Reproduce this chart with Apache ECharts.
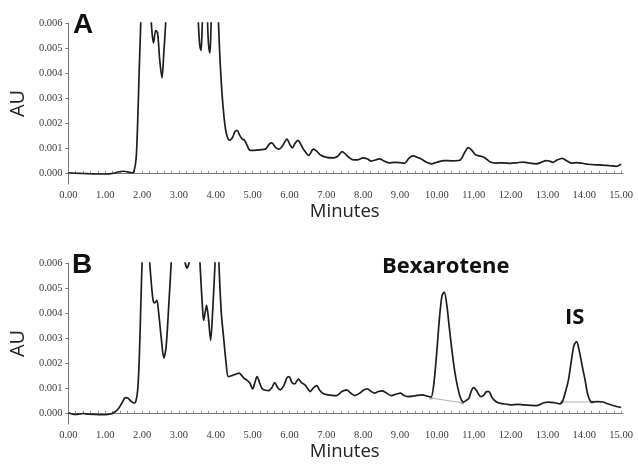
<!DOCTYPE html>
<html>
<head>
<meta charset="utf-8">
<script src="https://cdn.jsdelivr.net/npm/echarts@6/dist/echarts.min.js"></script>
<style>
html,body{margin:0;padding:0;background:#fff;}
#c{width:638px;height:470px;}
</style>
</head>
<body>
<div id="c"></div>
<script>
// ---- Data (minutes, AU) ----
const timesA = [0.00,0.20,0.40,0.60,0.80,1.00,1.20,1.35,1.50,1.62,1.72,1.78,1.84,1.88,1.92,1.96,2.00,2.10,2.20,2.26,2.31,2.37,2.42,2.48,2.54,2.59,2.64,2.70,3.00,3.40,3.52,3.56,3.60,3.63,3.68,3.76,3.80,3.84,3.87,3.92,4.00,4.06,4.10,4.15,4.20,4.25,4.30,4.37,4.45,4.52,4.58,4.65,4.72,4.78,4.85,4.93,5.05,5.20,5.35,5.45,5.52,5.62,5.72,5.82,5.93,6.02,6.08,6.15,6.23,6.32,6.40,6.52,6.65,6.75,6.85,7.00,7.20,7.30,7.43,7.55,7.70,7.85,8.00,8.12,8.22,8.35,8.45,8.55,8.70,8.85,9.00,9.12,9.25,9.35,9.50,9.60,9.72,9.85,10.00,10.20,10.40,10.62,10.75,10.85,10.95,11.05,11.20,11.30,11.45,11.60,11.80,12.00,12.15,12.35,12.50,12.70,12.85,12.95,13.05,13.15,13.25,13.40,13.52,13.65,13.80,13.95,14.10,14.30,14.50,14.70,14.87,15.00];
const auA = [0.00000,-0.00002,-0.00003,-0.00004,-0.00005,-0.00005,-0.00003,0.00003,0.00006,0.00003,0.00000,0.00005,0.0006,0.0020,0.0040,0.0058,0.0075,0.0090,0.0075,0.0058,0.0052,0.0057,0.0056,0.0045,0.0038,0.0048,0.0060,0.0080,0.0110,0.0090,0.0062,0.0052,0.0049,0.0058,0.0075,0.0065,0.0052,0.0048,0.0058,0.0080,0.0080,0.0065,0.0050,0.0036,0.0026,0.0019,0.0015,0.0013,0.0014,0.00165,0.0017,0.0015,0.00135,0.0013,0.0011,0.0009,0.0009,0.00092,0.00095,0.00115,0.0012,0.00102,0.00095,0.0011,0.00135,0.0011,0.0010,0.00118,0.0013,0.0011,0.0009,0.0007,0.00095,0.00085,0.0007,0.00062,0.0006,0.00065,0.00085,0.0007,0.00053,0.00052,0.0006,0.00055,0.00047,0.00052,0.00056,0.00048,0.0004,0.00042,0.00041,0.00038,0.0006,0.00068,0.0006,0.00053,0.00042,0.00036,0.00042,0.00049,0.00048,0.0005,0.0008,0.00101,0.0009,0.00072,0.00066,0.0006,0.00043,0.00039,0.0004,0.00038,0.0004,0.00043,0.00039,0.00036,0.00043,0.00049,0.00047,0.00042,0.0005,0.00058,0.00048,0.00039,0.00041,0.00038,0.00034,0.00032,0.00031,0.00028,0.00026,0.00034];

const timesB = [0.00,0.10,0.20,0.30,0.40,0.55,0.75,1.00,1.15,1.25,1.35,1.45,1.55,1.62,1.70,1.78,1.83,1.88,1.92,1.96,2.00,2.06,2.14,2.20,2.25,2.30,2.34,2.40,2.45,2.52,2.59,2.65,2.72,2.79,2.86,3.05,3.15,3.22,3.30,3.45,3.55,3.60,3.64,3.67,3.71,3.75,3.80,3.86,3.92,3.98,4.02,4.05,4.09,4.15,4.22,4.28,4.34,4.45,4.55,4.63,4.70,4.76,4.85,4.92,5.00,5.06,5.12,5.19,5.26,5.35,5.44,5.52,5.60,5.68,5.75,5.85,5.93,5.99,6.07,6.14,6.24,6.33,6.42,6.50,6.56,6.65,6.74,6.82,6.92,7.05,7.15,7.28,7.42,7.55,7.65,7.77,7.92,8.00,8.11,8.22,8.31,8.41,8.51,8.62,8.76,8.90,9.01,9.10,9.21,9.40,9.61,9.75,9.84,9.92,10.00,10.07,10.14,10.20,10.27,10.33,10.40,10.48,10.56,10.64,10.72,10.80,10.87,10.94,11.00,11.07,11.15,11.19,11.27,11.35,11.41,11.50,11.60,11.68,11.85,12.00,12.20,12.35,12.55,12.71,12.90,13.03,13.20,13.34,13.42,13.50,13.57,13.65,13.72,13.79,13.86,13.94,14.02,14.10,14.20,14.35,14.51,14.65,14.78,14.90,15.00];
const auB = [0.00000,-0.00005,-0.00007,-0.00005,-0.00003,-0.00006,-0.00007,-0.00008,-0.00005,0.00002,0.00015,0.00038,0.00061,0.00058,0.00046,0.00039,0.00045,0.0009,0.0020,0.0040,0.0060,0.0080,0.0080,0.0062,0.0052,0.0045,0.0044,0.0045,0.0040,0.0030,0.0022,0.0026,0.0042,0.0060,0.0080,0.0080,0.0062,0.0058,0.0062,0.0080,0.0065,0.0052,0.0042,0.0037,0.0040,0.0043,0.0038,0.0029,0.0042,0.0060,0.0075,0.0075,0.0058,0.0040,0.0029,0.0020,0.00145,0.0015,0.00155,0.00159,0.0015,0.00139,0.0013,0.0012,0.00096,0.0012,0.00145,0.0012,0.00096,0.0009,0.00089,0.001,0.00121,0.001,0.00092,0.0011,0.0014,0.00145,0.0012,0.00116,0.00135,0.0012,0.00112,0.00095,0.00085,0.001,0.00109,0.0009,0.00076,0.00072,0.0007,0.00069,0.00085,0.00092,0.0008,0.00069,0.0008,0.0009,0.00096,0.00085,0.00079,0.00085,0.00088,0.0008,0.00069,0.00075,0.00079,0.0007,0.00065,0.00068,0.00072,0.00066,0.00063,0.0012,0.0025,0.0038,0.0047,0.00483,0.0043,0.0035,0.0026,0.0017,0.00105,0.0006,0.00043,0.0005,0.00059,0.0009,0.00101,0.0009,0.0007,0.00065,0.0007,0.00085,0.00085,0.0006,0.00045,0.00039,0.00035,0.00032,0.00034,0.00032,0.0003,0.00029,0.0004,0.00043,0.0004,0.00036,0.0005,0.0009,0.00132,0.0021,0.0027,0.00285,0.0025,0.0019,0.00132,0.0007,0.00043,0.00045,0.00043,0.00035,0.00029,0.00024,0.00021];

// integration baselines in panel B
const bexBaseT = [9.84, 10.69];
const bexBaseV = [0.00059, 0.00040];
const isBaseT = [13.39, 14.20];
const isBaseV = [0.00043, 0.00043];

const xLabels = [0,1,2,3,4,5,6,7,8,9,10,11,12,13,14,15];
const yLabels = [0,0.001,0.002,0.003,0.004,0.005,0.006];
const panelLetters = ['A','B'];
const peakNames = ['Bexarotene','IS'];

// ---- helpers ----
const zip = (t, v) => t.map((x, i) => [x, v[i]]);
const minorTicks = [];
for (let i = 0; i <= 75; i++) minorTicks.push(+(i * 0.2).toFixed(2));

const gridTop = [23, 263];
const gridH = 161;

function xAxis(idx) {
  return {
    type: 'value', gridIndex: idx, min: -0.05, max: 15.05,
    name: 'Minutes', nameLocation: 'middle', nameGap: 16,
    nameTextStyle: {fontFamily: 'Open Sans', fontSize: 18.5, color: '#222'},
    axisLine: {show: true, lineStyle: {color: '#7a7a7a', width: 1}},
    axisTick: {show: true, inside: true, length: 2, customValues: minorTicks, lineStyle: {color: '#8a8a8a'}},
    axisLabel: {customValues: xLabels, margin: 6, fontFamily: 'Liberation Serif', fontSize: 10.5, color: '#3a3a3a',
      formatter: v => v.toFixed(2)},
    splitLine: {show: false}
  };
}
function yAxis(idx) {
  return {
    type: 'value', gridIndex: idx, min: -0.00045, max: 0.006,
    name: 'AU', nameLocation: 'middle', nameGap: 31, nameRotate: 90,
    nameTextStyle: {fontFamily: 'Open Sans', fontSize: 20, color: '#222'},
    axisLine: {show: true, lineStyle: {color: '#7a7a7a', width: 1}},
    axisTick: {show: true, inside: false, length: 3, customValues: yLabels, lineStyle: {color: '#7a7a7a'}},
    axisLabel: {customValues: yLabels, margin: 4, fontFamily: 'Liberation Serif', fontSize: 10.5, color: '#3a3a3a',
      formatter: v => v.toFixed(3)},
    splitLine: {show: false}
  };
}
const lineSeries = (idx, data) => ({
  type: 'line', xAxisIndex: idx, yAxisIndex: idx, data: data, showSymbol: false,
  smooth: 0.3, clip: true, lineStyle: {color: '#1e1e1e', width: 1.7}, silent: true, z: 3
});
const baseSeries = (data) => ({
  type: 'line', xAxisIndex: 1, yAxisIndex: 1, data: data, symbol: 'rect', symbolSize: 3,
  showSymbol: true, itemStyle: {color: '#aaa'}, lineStyle: {color: '#999', width: 0.8}, silent: true, z: 2
});

const chart = echarts.init(document.getElementById('c'), null, {renderer: 'canvas'});
chart.setOption({
  animation: false,
  backgroundColor: '#fff',
  grid: [
    {left: 63, right: 15, top: gridTop[0], height: gridH},
    {left: 63, right: 15, top: gridTop[1], height: gridH}
  ],
  xAxis: [xAxis(0), xAxis(1)],
  yAxis: [yAxis(0), yAxis(1)],
  series: [
    lineSeries(0, zip(timesA, auA)),
    lineSeries(1, zip(timesB, auB)),
    baseSeries(zip(bexBaseT, bexBaseV)),
    baseSeries(zip(isBaseT, isBaseV))
  ],
  graphic: [
    {type: 'text', left: 73, top: 11, style: {text: panelLetters[0], font: 'bold 28px "Liberation Sans"', fill: '#111'}},
    {type: 'text', left: 72, top: 251, style: {text: panelLetters[1], font: 'bold 28px "Liberation Sans"', fill: '#111'}},
    {type: 'text', left: 382, top: 256, style: {text: peakNames[0], font: 'bold 22px "Open Sans"', fill: '#111'}},
    {type: 'text', left: 565, top: 307, style: {text: peakNames[1], font: 'bold 22px "Open Sans"', fill: '#111'}}
  ]
});
</script>
</body>
</html>
